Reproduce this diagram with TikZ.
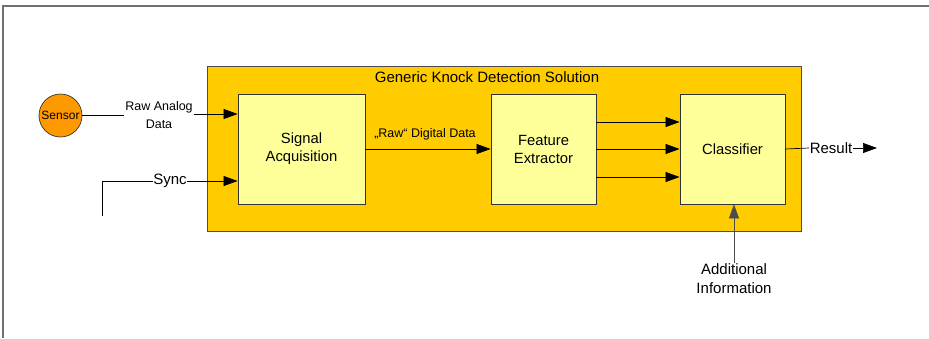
\documentclass[tikz,border=0pt]{standalone}
\usepackage{fontspec}
\setmainfont{Liberation Sans}
\usetikzlibrary{arrows.meta}
\definecolor{outery}{HTML}{FFCC00}
\definecolor{innery}{HTML}{FFFF99}
\definecolor{sensoro}{HTML}{FF9900}
\definecolor{frameg}{HTML}{707070}
\tikzset{
  blockbox/.style={draw=black!80, fill=innery, line width=0.8pt, minimum width=127pt, minimum height=110pt, align=center, font=\fontsize{14.8}{18}\selectfont, inner sep=0pt},
  lbl/.style={font=\fontsize{12.5}{18}\selectfont, align=center, inner sep=1pt},
  conn/.style={line width=0.7pt, -{Triangle[length=14pt,width=10pt]}},
  plain/.style={line width=0.7pt}
}
\begin{document}
\begin{tikzpicture}[x=1pt,y=-1pt]
\useasboundingbox (0,0) rectangle (929,338);
% frame (top and left)
\draw[frameg, line width=1.5pt] (3,338) -- (3,6) -- (929,6);
% outer box
\node[draw=black!70, fill=outery, line width=0.8pt, minimum width=594pt, minimum height=165pt, inner sep=0pt] (outer) at (504,148.5) {};
\node[lbl, font=\fontsize{15}{18}\selectfont] (title) at (487,77) {Generic Knock Detection Solution};
% blocks
\node[blockbox] (sa) at (301.5,149) {Signal\\Acquisition};
\node[blockbox, minimum width=105pt] (fe) at (543.5,149) {Feature\\Extractor};
\node[blockbox, minimum width=105pt] (cl) at (732.5,149) {Classifier};
% sensor
\node[circle, draw=black!80, fill=sensoro, minimum size=43pt, inner sep=0pt, font=\fontsize{12}{14}\selectfont, line width=0.7pt] (sensor) at (60.5,115.5) {Sensor};
\node[lbl] (rad) at (159,115) {Raw Analog\\Data};
\draw[plain] (sensor.east) -- (sensor.east -| rad.west);
\draw[conn] ([yshift=1pt]rad.east) -- ([yshift=1pt]rad.east -| sa.west);
% sync
\node[lbl, font=\fontsize{15}{18}\selectfont, inner sep=0.5pt] (sync) at (170,181) {Sync};
\coordinate (syncstart) at (102,216);
\draw[plain] (syncstart) |- (sync.west);
\draw[conn] (sync.east) -- (sync.east -| sa.west);
% raw digital
\draw[conn] (sa.east) -- (fe.west);
\node[lbl] (rdd) at (425,134) {„Raw“ Digital Data};
% three arrows
\draw[conn] ([yshift=-28pt]fe.east) -- ([yshift=-28pt]fe.east -| cl.west);
\draw[conn] (fe.east) -- (cl.west);
\draw[conn] ([yshift=27pt]fe.east) -- ([yshift=27pt]fe.east -| cl.west);
% result
\node[lbl, font=\fontsize{15}{18}\selectfont, inner sep=0.5pt] (res) at (831,148) {Result};
\draw[plain] (cl.east) -- (res.west);
\coordinate (resend) at (877,148);
\draw[conn] (res.east) -- (resend);
% additional information
\node[lbl, font=\fontsize{15}{19}\selectfont] (add) at (734,279) {Additional\\Information};
\draw[conn, draw=black!70] (add.north) -- (add.north |- cl.south);
\end{tikzpicture}
\end{document}
